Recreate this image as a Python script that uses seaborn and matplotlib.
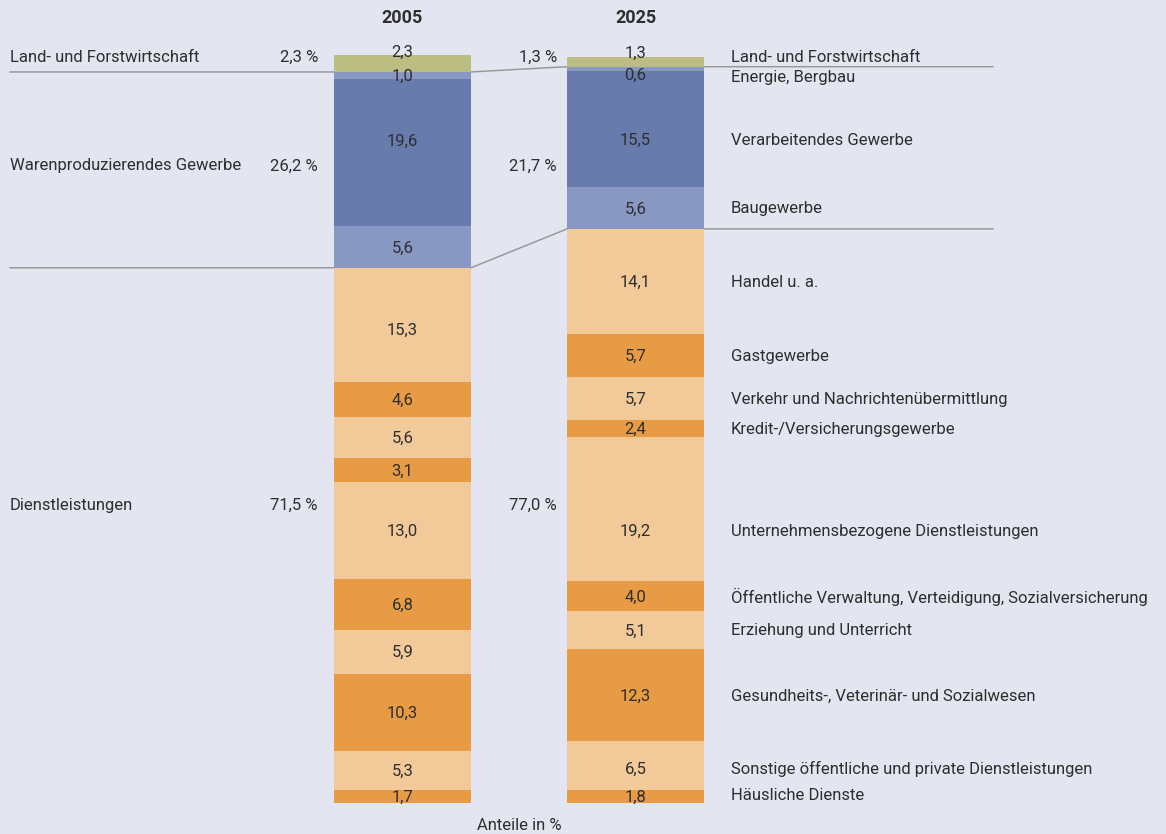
import numpy as np
import pandas as pd
import seaborn as sns
import matplotlib
matplotlib.use('Agg')
import matplotlib.pyplot as plt

# data: segments listed top-down
years = ['2005', '2025']
branches = ['Land- und Forstwirtschaft', 'Energie, Bergbau', 'Verarbeitendes Gewerbe',
            'Baugewerbe', 'Handel u. a.', 'Gastgewerbe',
            'Verkehr und Nachrichtenübermittlung', 'Kredit-/Versicherungsgewerbe',
            'Unternehmensbezogene Dienstleistungen',
            'Öffentliche Verwaltung, Verteidigung, Sozialversicherung',
            'Erziehung und Unterricht', 'Gesundheits-, Veterinär- und Sozialwesen',
            'Sonstige öffentliche und private Dienstleistungen', 'Häusliche Dienste']
share_2005 = [2.3, 1.0, 19.6, 5.6, 15.3, 4.6, 5.6, 3.1, 13.0, 6.8, 5.9, 10.3, 5.3, 1.7]
share_2025 = [1.3, 0.6, 15.5, 5.6, 14.1, 5.7, 5.7, 2.4, 19.2, 4.0, 5.1, 12.3, 6.5, 1.8]
sectors = ['Land- und Forstwirtschaft', 'Warenproduzierendes Gewerbe', 'Dienstleistungen']
sector_2005 = [2.3, 26.2, 71.5]
sector_2025 = [1.3, 21.7, 77.0]
sector_size = [1, 3, 10]   # number of branches per sector

# styling
bg = '#e3e5f0'
olive, blue_d, blue_l = '#bbbd82', '#687bad', '#8898c2'
orange_l, orange_d = '#f2c998', '#e89b45'
colors = [olive, blue_l, blue_d, blue_l] + [orange_l, orange_d] * 5
text_c = '#2e2e2e'
line_c = '#9a9a9a'

# pixel nudges for labels (positive = down)
nudge_val = {('2005', 0): -11, ('2005', 2): -11, ('2005', 4): 5,
             ('2025', 0): -9, ('2025', 1): 6, ('2025', 2): 11, ('2025', 8): 22,
             ('2025', 12): 4}
nudge_name = {0: -4, 1: 9, 2: 11, 8: 22, 12: 4, 13: -1}
nudge_sector = [-6, -4, -30]

sns.set_theme(style='white')
plt.rcParams['font.family'] = ['Roboto', 'DejaVu Sans']
fs = 12

fig = plt.figure(figsize=(11.66, 8.34), dpi=100, facecolor=bg)
ax = fig.add_axes([0, 0, 1, 1])
ax.set_facecolor(bg)

df = pd.DataFrame({'2005': share_2005, '2025': share_2025}, index=branches)
# cumulative height from the bottom for each segment
cum_top = df[::-1].cumsum()[::-1]

# connector lines at sector boundaries (drawn beneath the bars)
x_left, x_right = -1.685, 2.535
bw = 0.588
for k in [1, 4]:
    y05 = cum_top['2005'].iloc[k]
    y25 = cum_top['2025'].iloc[k]
    ax.plot([x_left, -bw / 2, bw / 2, 1 - bw / 2, x_right],
            [y05, y05, y05, y25, y25], color=line_c, lw=1.1, zorder=0)

for i, name in enumerate(branches):
    sns.barplot(x=years, y=cum_top.iloc[i].values, color=colors[i], width=bw,
                saturation=1, linewidth=0, ax=ax, zorder=2)

# value labels
for j, yr in enumerate(years):
    for i, name in enumerate(branches):
        v = df[yr].iloc[i]
        mid = cum_top[yr].iloc[i] - v / 2
        ax.annotate(f'{v:.1f}'.replace('.', ','), (j, mid),
                    xytext=(0, -nudge_val.get((yr, i), 1)), textcoords='offset pixels',
                    ha='center', va='center', fontsize=fs, color=text_c, zorder=5)

# branch names on the right
for i, name in enumerate(branches):
    v = df['2025'].iloc[i]
    mid = cum_top['2025'].iloc[i] - v / 2
    ax.annotate(name, (1 + bw / 2, mid), xytext=(27, -nudge_name.get(i, 1)),
                textcoords='offset pixels', ha='left', va='center', fontsize=fs,
                color=text_c)

# sector labels and shares
start = 0
for s, name in enumerate(sectors):
    top = cum_top['2005'].iloc[start]
    bottom = top - sum(share_2005[start:start + sector_size[s]])
    mid = (top + bottom) / 2
    off = (0, -nudge_sector[s])
    ax.annotate(name, (x_left, mid), xytext=off, textcoords='offset pixels',
                ha='left', va='center', fontsize=fs, color=text_c)
    ax.annotate(f'{sector_2005[s]:.1f} %'.replace('.', ','), (-bw / 2, mid),
                xytext=(-16, off[1]), textcoords='offset pixels',
                ha='right', va='center', fontsize=fs, color=text_c)
    ax.annotate(f'{sector_2025[s]:.1f} %'.replace('.', ','), (1 - bw / 2, mid),
                xytext=(-10, off[1]), textcoords='offset pixels',
                ha='right', va='center', fontsize=fs, color=text_c)
    start += sector_size[s]

# year headers and axis note
tr = ax.get_xaxis_transform()
for j, yr in enumerate(years):
    ax.text(j, 1 - 18 / 834, yr, transform=tr, ha='center', va='center',
            fontsize=13, fontweight='bold', color=text_c)
ax.text(0.5, 1 - 825 / 834, 'Anteile in %', transform=tr, ha='center', va='center',
        fontsize=fs, color=text_c)

ax.set_xlim(-402.5 / 233, -402.5 / 233 + 1166 / 233)
ax.set_ylim(-31 / 7.475, -31 / 7.475 + 834 / 7.475)
ax.axis('off')

fig.savefig('out.png', dpi=100, facecolor=bg)
